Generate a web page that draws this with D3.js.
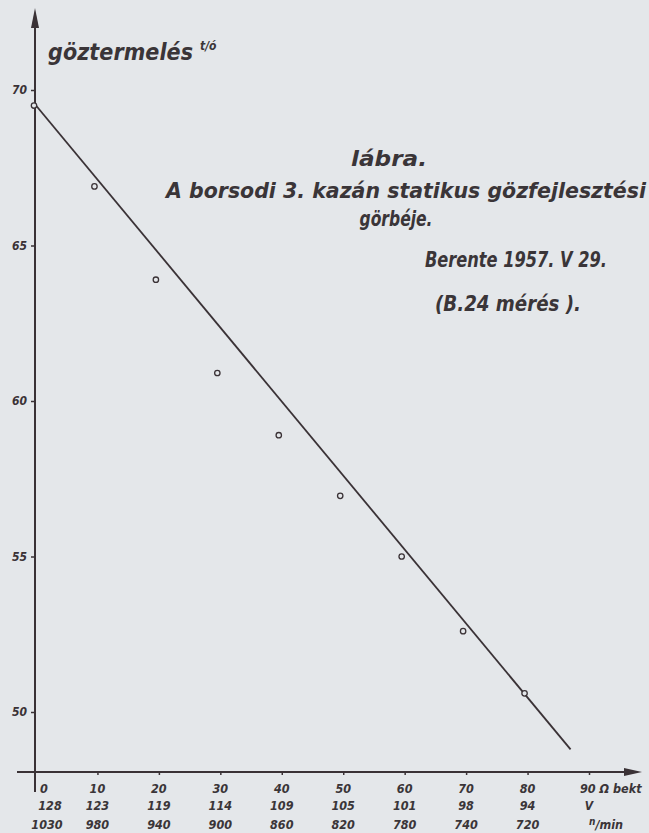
<!DOCTYPE html>
<meta charset="utf-8">
<title>gőzfejlesztési görbe</title>
<style>
body { margin: 0; background: #e4e7ea; }
svg { display: block; }
text { font-family: "DejaVu Sans Condensed", "DejaVu Sans", sans-serif; font-weight: bold; font-style: oblique; fill: #3a3538; }
</style>

<script src="https://d3js.org/d3.v7.min.js"></script>

<div id="chart"></div>

<script>

// load setting (ohm, bekt) on the x axis, with the matching voltage and rpm
var ohm   = [0, 10, 20, 30, 40, 50, 60, 70, 80]
var volt  = ["128", "123", "119", "114", "109", "105", "101", "98", "94"]
var rpm   = ["1030", "980", "940", "900", "860", "820", "780", "740", "720"]

// measured steam output t/ó
var steam = [69.5, 66.9, 63.9, 60.9, 58.9, 56.95, 55.0, 52.6, 50.6]

// drawn straight line through the points
var fitX = [0, 87]
var fitY = [69.5, 48.8]

var yTicks = [50, 55, 60, 65, 70]

var width = 649, height = 833

var svg = d3.select("#chart")
  .append("svg")
  .attr("width", width)
  .attr("height", height)

var x = d3.scaleLinear().domain([0, 90]).range([36, 589])
var y = d3.scaleLinear().domain([50, 70]).range([712, 90])

var ink = "#3a3236"
var axisY0 = 772   // where the x axis sits

// y axis with arrow
svg.append("line")
  .attr("x1", 35).attr("x2", 35)
  .attr("y1", 22).attr("y2", 792)
  .style("stroke", ink).style("stroke-width", 2)
svg.append("path")
  .attr("d", "M35,8 L39,28 L31,28 Z")
  .style("fill", ink)

// x axis with arrow
svg.append("line")
  .attr("x1", 17).attr("x2", 628)
  .attr("y1", axisY0).attr("y2", axisY0)
  .style("stroke", ink).style("stroke-width", 2)
svg.append("path")
  .attr("d", "M642," + axisY0 + " L624," + (axisY0 - 4) + " L624," + (axisY0 + 4) + " Z")
  .style("fill", ink)

// y ticks
var yAxis = svg.append("g")
  .attr("transform", "translate(35,0)")
  .call(d3.axisLeft(y).tickValues(yTicks).tickSize(4).tickPadding(4))
yAxis.select(".domain").remove()
yAxis.selectAll(".tick line").style("stroke", ink).style("stroke-width", 1.5)
yAxis.selectAll(".tick text")
  .style("font-family", "DejaVu Sans Condensed")
  .style("font-size", "12px")
  .style("fill", ink)

// x ticks
var xAxis = svg.append("g")
  .attr("transform", "translate(0," + axisY0 + ")")
  .call(d3.axisBottom(x).tickValues(ohm.slice(1).concat([90])).tickSize(3).tickFormat(""))
xAxis.select(".domain").remove()
xAxis.selectAll(".tick line").style("stroke", ink).style("stroke-width", 1.5)

// three rows of labels under the x axis
var rows = [
  {vals: ohm.map(String), base: 793},
  {vals: volt, base: 810},
  {vals: rpm, base: 829}
]
var shift = [8, 14, 11]   // first column sits right of the y axis
rows.forEach(function(r, ri) {
  svg.selectAll(".row" + ri)
    .data(r.vals)
    .enter()
    .append("text")
      .attr("x", function(d, i) { return x(ohm[i]) + (i === 0 ? shift[ri] : 0) })
      .attr("y", r.base)
      .attr("text-anchor", "middle")
      .style("font-size", "12.5px")
      .text(function(d) { return d })
})

// units at the 90 position
svg.append("text")
  .attr("x", x(90) - 9).attr("y", 793)
  .style("font-size", "12.5px")
  .text("90 Ω bekt")
svg.append("text")
  .attr("x", x(90)).attr("y", 810)
  .attr("text-anchor", "middle")
  .style("font-size", "12px")
  .text("V")
var unit = svg.append("text")
  .attr("x", x(90)).attr("y", 829)
  .style("font-size", "12.5px")
unit.append("tspan").attr("dy", -4).style("font-size", "10px").text("n")
unit.append("tspan").attr("dy", 4).text("/min")

// fitted line
svg.append("path")
  .datum(fitX.map(function(d, i) { return [d, fitY[i]] }))
  .attr("d", d3.line().x(function(d) { return x(d[0]) }).y(function(d) { return y(d[1]) }))
  .style("fill", "none")
  .style("stroke", ink)
  .style("stroke-width", 1.8)

// measured points
svg.selectAll(".pt")
  .data(ohm)
  .enter()
  .append("circle")
    .attr("cx", function(d, i) { return i === 0 ? 34 : x(d) - 3 })
    .attr("cy", function(d, i) { return y(steam[i]) })
    .attr("r", 2.7)
    .style("fill", "#e4e7ea")
    .style("stroke", ink)
    .style("stroke-width", 1.3)

// y axis title
var yt = svg.append("text")
  .attr("x", 48).attr("y", 60)
  .attr("textLength", 145)
  .style("font-size", "23px")
  .text("göztermelés")
svg.append("text")
  .attr("x", 200).attr("y", 50)
  .style("font-size", "12px")
  .text("t/ó")

// caption block
var caption = [
  {t: "lábra.", x: 389, y: 166, w: 76, size: 21},
  {t: "A borsodi 3. kazán statikus gözfejlesztési", x: 406, y: 198, w: 480, size: 21},
  {t: "görbéje.", x: 396, y: 226, w: 73, size: 21},
  {t: "Berente 1957. V 29.", x: 516, y: 267, w: 182, size: 21},
  {t: "(B.24 mérés ).", x: 508, y: 311, w: 146, size: 21}
]
svg.selectAll(".cap")
  .data(caption)
  .enter()
  .append("text")
    .attr("x", function(d) { return d.x - d.w / 2 })
    .attr("y", function(d) { return d.y })
    .attr("textLength", function(d) { return d.w })
    .attr("lengthAdjust", "spacingAndGlyphs")
    .style("font-size", function(d) { return d.size + "px" })
    .text(function(d) { return d.t })

</script>
